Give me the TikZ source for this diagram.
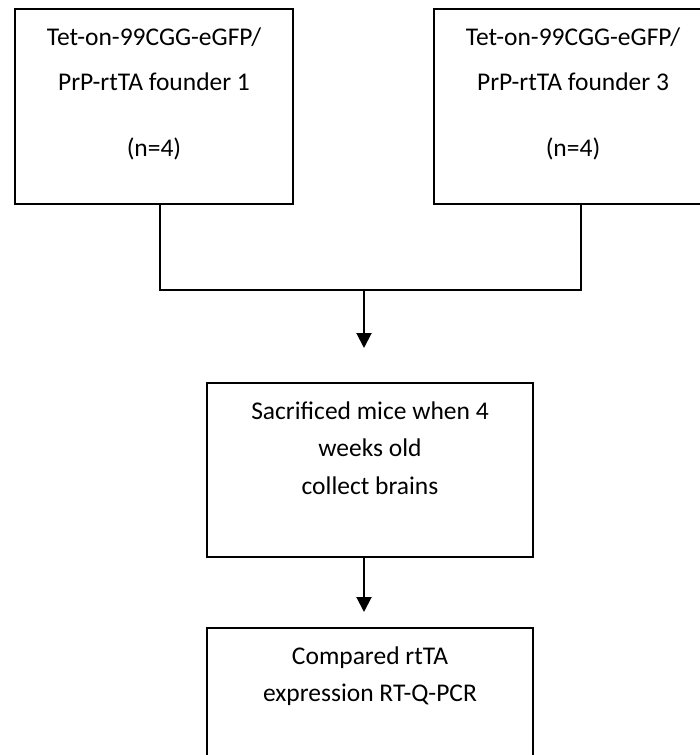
\documentclass[tikz,border=0pt]{standalone}
\usepackage{fontspec}
\setmainfont{Carlito}
\usetikzlibrary{arrows.meta}
\tikzset{
  mouse box/.style={
    draw,
    line width=2pt,
    anchor=north,
    align=center,
    inner xsep=4pt,
    inner ysep=0pt,
    font=\fontsize{25.5}{37.5}\selectfont
  },
  % text height = top to first baseline (36pt) + lines below it
  founder box/.style={mouse box, minimum width=278pt, text height=147pt, text depth=48pt},
  assay box/.style={mouse box, minimum width=326pt, text height=111pt, text depth=63pt},
  readout box/.style={mouse box, minimum width=326pt, text height=73.5pt, text depth=100.5pt},
  flow line/.style={line width=2pt},
  flow arrow/.style={flow line, -{Triangle[length=15pt,width=15pt]}}
}

\begin{document}
\begin{tikzpicture}[x=1pt,y=-1pt]
\useasboundingbox (0,0) rectangle (700,755);
\clip (0,0) rectangle (700,755);

\node[founder box] (founder1) at (154,8)
  {Tet-on-99CGG-eGFP/\\[8pt]PrP-rtTA founder 1\\[28pt](n=4)};
\node[founder box] (founder3) at (573,8)
  {Tet-on-99CGG-eGFP/\\[8pt]PrP-rtTA founder 3\\[28pt](n=4)};

\node[assay box] (sacrifice) at (370,382)
  {Sacrificed mice when 4\\weeks old\\collect brains};
\node[readout box] (qpcr) at (370,627)
  {Compared rtTA\\expression RT-Q-PCR};

\coordinate (merge) at (364,290);

\draw[flow line] ([xshift=6pt]founder1.south) |- (merge) -| ([xshift=8pt]founder3.south);
\draw[flow arrow, shorten >=34pt] (merge) -- (merge |- sacrifice.north);
\draw[flow arrow, shorten >=15pt] (sacrifice.south -| merge) -- (qpcr.north -| merge);
\end{tikzpicture}
\end{document}
